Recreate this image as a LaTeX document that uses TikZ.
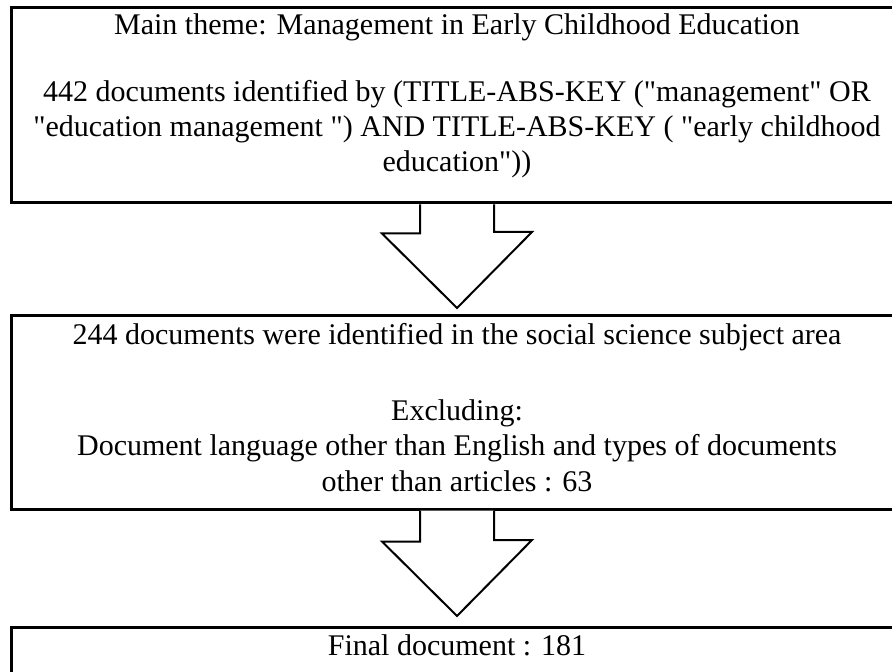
\documentclass[tikz,border=0pt]{standalone}
\usepackage{fontspec}
\setmainfont{Liberation Serif}
\usetikzlibrary{positioning}

\tikzset{
  stagebox/.style={draw, line width=1.5pt, minimum width=446pt, inner sep=0pt},
  stagetext/.style={align=center, inner sep=0pt, font=\fontsize{15}{17.5}\selectfont},
  bigarrow/.style={draw, fill=white, line width=1pt, line join=miter}
}
\newcommand{\qq}{\textquotedbl}

\begin{document}
\begin{tikzpicture}[x=0.5pt,y=-0.5pt]
    \newcommand{\centx}{457}   % centre line of boxes and arrows
    \newcommand{\stem}{37}     % half width of the arrow stem
    \newcommand{\head}{75}     % half width of the arrow head

    \useasboundingbox (0,0) rectangle (892,672);

    % boxes
    \node[stagebox, minimum height=97.5pt] (search) at (\centx,105.5) {};
    \node[stagebox, minimum height=96.5pt] (subject) at (\centx,412.5) {};
    \node[stagebox, minimum height=36.5pt] (final) at (\centx,663.5) {};

    % texts
    \node[stagetext, anchor=base] (theme) at (\centx,35) {Main theme: Management in Early Childhood Education};
    \node[stagetext, anchor=base] (query) at (\centx,102) {442 documents identified by (TITLE-ABS-KEY (\qq management\qq{} OR};
    \node[stagetext, anchor=base] (query2) at (\centx,137) {\qq education management \qq) AND TITLE-ABS-KEY ( \qq early childhood};
    \node[stagetext, anchor=base] (query3) at (\centx,172) {education\qq))};

    \node[stagetext, anchor=base] (social) at (\centx,345) {244 documents were identified in the social science subject area};
    \node[stagetext, anchor=base] (excl) at (\centx,421) {Excluding:};
    \node[stagetext, anchor=base] (excl2) at (\centx,456) {Document language other than English and types of documents};
    \node[stagetext, anchor=base] (excl3) at (\centx,491) {other than articles : 63};

    \node[stagetext, anchor=base] (count) at (\centx,655) {Final document : 181};

    % arrows between boxes
    \coordinate (a1) at (search.south);
    \coordinate (a2) at (subject.south);
    \filldraw[bigarrow] ([xshift=-\stem*0.5pt]a1) -- ++(0,29) -- ++(\stem-\head,0)
        -- (\centx,308) -- (\centx+\head,232) -- ++(\stem-\head,0) -- ([xshift=\stem*0.5pt]a1);
    \filldraw[bigarrow] ([xshift=-\stem*0.5pt]a2) -- ++(0,31) -- ++(\stem-\head,0)
        -- (\centx,616) -- (\centx+\head,540) -- ++(\stem-\head,0) -- ([xshift=\stem*0.5pt]a2);
\end{tikzpicture}
\end{document}
